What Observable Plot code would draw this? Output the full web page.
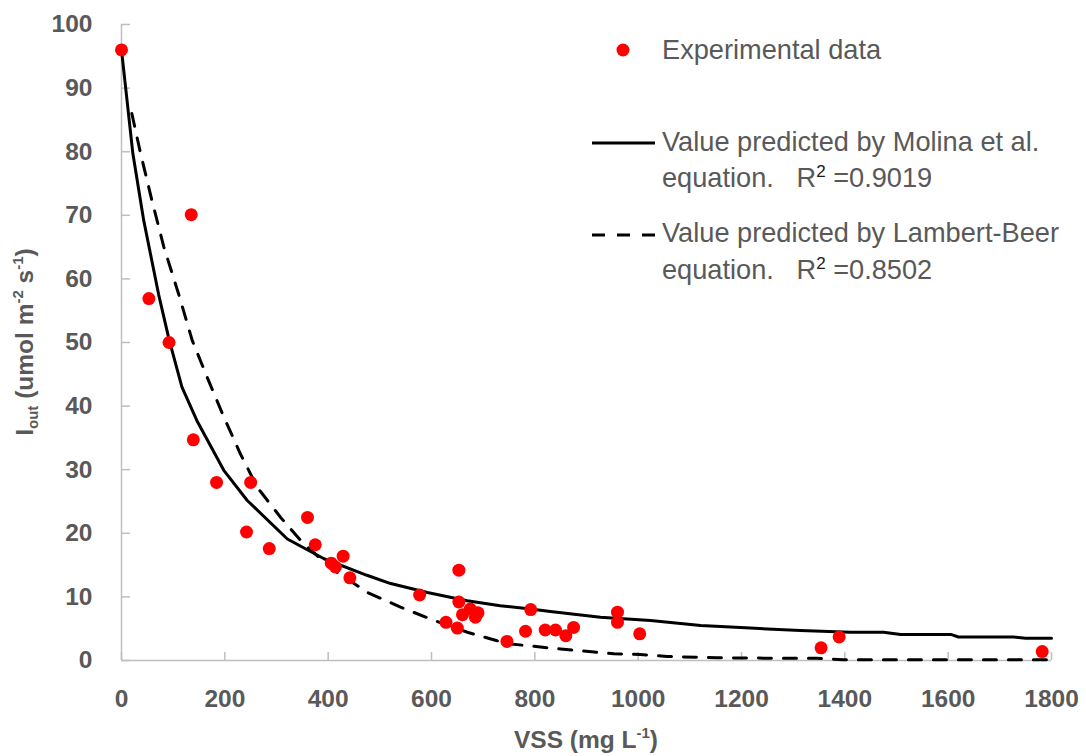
<!DOCTYPE html>
<html>
<head>
<meta charset="utf-8">
<script src="https://cdn.jsdelivr.net/npm/d3@7"></script>
<script src="https://cdn.jsdelivr.net/npm/@observablehq/plot@0.6"></script>
<style>
  html, body { margin: 0; padding: 0; background: #fff; }
  #wrap { position: relative; width: 1086px; height: 756px; overflow: hidden; font-family: "Liberation Sans", Arial, sans-serif; color: #595959; }
  .lg { position: absolute; font-size: 27.2px; line-height: 36px; white-space: nowrap; }
  .lg sup { font-size: 17px; line-height: 0; vertical-align: 10px; color: #1a1a1a; }
  .ttl { position: absolute; font-weight: bold; font-size: 24.5px; white-space: nowrap; }
  .ttl sup { font-size: 15px; line-height: 0; vertical-align: 10px; }
  .ttl sub { font-size: 15px; line-height: 0; vertical-align: -5px; }
</style>
</head>
<body>
<div id="wrap"></div>
<script>
// Experimental data
const expX = [0, 53, 92, 135, 139, 184, 250, 242, 286, 360, 375, 406, 414, 429, 442, 577, 653, 653, 660, 675, 690, 685, 628, 650, 746, 782, 792, 820, 840, 860, 875, 960, 960, 1003, 1354, 1389, 1782];
const expY = [96, 56.9, 50, 70.1, 34.7, 28, 28, 20.2, 17.6, 22.5, 18.2, 15.3, 14.7, 16.4, 13.0, 10.3, 14.2, 9.2, 7.2, 8.1, 7.5, 6.8, 6.0, 5.1, 3.0, 4.6, 8.0, 4.8, 4.8, 3.9, 5.2, 7.6, 6.0, 4.2, 2.0, 3.7, 1.4];

// Molina et al. predicted curve
const molX = [0, 22, 43, 72, 92, 117, 146, 198, 243, 321, 392, 475, 521, 592, 669, 733, 792, 830, 927, 1024, 1121, 1217, 1314, 1411, 1475, 1508, 1605, 1620, 1727, 1750, 1800];
const molY = [96, 79.7, 69.2, 57.5, 50.5, 43.0, 37.7, 29.9, 25.2, 19.1, 16.0, 13.4, 12.1, 10.7, 9.4, 8.6, 8.1, 7.7, 6.8, 6.3, 5.5, 5.1, 4.7, 4.45, 4.45, 4.1, 4.1, 3.7, 3.7, 3.5, 3.5];

// Lambert-Beer predicted curve
const lbX = [20, 37, 59, 82, 111, 137, 166, 198, 230, 263, 308, 353, 411, 476, 540, 605, 669, 727, 753, 850, 953, 1004, 1056, 1153, 1281, 1346, 1397, 1800];
const lbY = [86, 79.7, 72.3, 65.0, 57.5, 50.3, 44.5, 38.3, 32.5, 27.2, 22.5, 18.3, 14.2, 10.7, 8.4, 6.3, 4.45, 3.1, 2.6, 1.8, 1.05, 0.94, 0.63, 0.42, 0.35, 0.35, 0.1, 0.1];

const xTicks = [0, 200, 400, 600, 800, 1000, 1200, 1400, 1600, 1800];
const yTicks = [0, 10, 20, 30, 40, 50, 60, 70, 80, 90, 100];

const expData = expX.map((x, i) => ({x, y: expY[i]}));
const molData = molX.map((x, i) => ({x, y: molY[i]}));
const lbData = lbX.map((x, i) => ({x, y: lbY[i]}));

const chart = Plot.plot({
  width: 1086,
  height: 756,
  marginLeft: 121,
  marginRight: 35,
  marginTop: 24,
  marginBottom: 96,
  style: {fontFamily: "'Liberation Sans', Arial, sans-serif", fontSize: "24.5px", fontWeight: "bold", color: "#595959", background: "white"},
  x: {domain: [0, 1800]},
  y: {domain: [0, 100]},
  marks: [
    Plot.ruleY([0], {stroke: "#bfbfbf", strokeWidth: 1.5}),
    Plot.ruleX([0], {stroke: "#bfbfbf", strokeWidth: 1.5}),
    Plot.axisX({ticks: xTicks, tickSize: -8, tickPadding: 37, stroke: "#bfbfbf", strokeWidth: 1.5, fill: "#595959", tickFormat: d => String(d), label: null}),
    Plot.axisY({ticks: yTicks, tickSize: -9, tickPadding: 38, stroke: "#bfbfbf", strokeWidth: 1.5, fill: "#595959", tickFormat: d => String(d), label: null}),
    Plot.line(lbData, {x: "x", y: "y", stroke: "black", strokeWidth: 3, strokeDasharray: "13,12", curve: "linear"}),
    Plot.line(molData, {x: "x", y: "y", stroke: "black", strokeWidth: 3, curve: "linear"}),
    Plot.dot(expData, {x: "x", y: "y", r: 6.5, fill: "#ff0000", stroke: "none"})
  ]
});

const wrap = document.getElementById("wrap");
wrap.appendChild(chart);

// Axis titles
const xt = document.createElement("div");
xt.className = "ttl";
xt.innerHTML = "VSS (mg L<sup>-1</sup>)";
xt.style.left = "586px"; xt.style.top = "740px";
xt.style.transform = "translate(-50%,-50%)";
wrap.appendChild(xt);

const yt = document.createElement("div");
yt.className = "ttl";
yt.innerHTML = "I<sub>out</sub> (umol m<sup>-2</sup> s<sup>-1</sup>)";
yt.style.left = "25px"; yt.style.top = "342px";
yt.style.transform = "translate(-50%,-50%) rotate(-90deg)";
wrap.appendChild(yt);

// Legend
const legendSvg = `
<svg style="position:absolute;left:0;top:0;pointer-events:none" width="1086" height="756">
  <circle cx="623" cy="50" r="6.5" fill="#ff0000"/>
  <line x1="592" x2="655" y1="143" y2="143" stroke="black" stroke-width="3"/>
  <line x1="592" x2="655" y1="235" y2="235" stroke="black" stroke-width="3" stroke-dasharray="13,12"/>
</svg>`;
wrap.insertAdjacentHTML("beforeend", legendSvg);

const items = [
  {top: 50, html: "Experimental data"},
  {top: 141.5, html: "Value predicted by Molina et al."},
  {top: 178, html: "equation.&nbsp;&nbsp;&nbsp;R<sup>2</sup>&nbsp;=0.9019"},
  {top: 233, html: "Value predicted by Lambert-Beer"},
  {top: 270, html: "equation.&nbsp;&nbsp;&nbsp;R<sup>2</sup>&nbsp;=0.8502"}
];
for (const it of items) {
  const d = document.createElement("div");
  d.className = "lg";
  d.innerHTML = it.html;
  d.style.left = "662px";
  d.style.top = (it.top - 18) + "px";
  wrap.appendChild(d);
}
</script>
</body>
</html>
